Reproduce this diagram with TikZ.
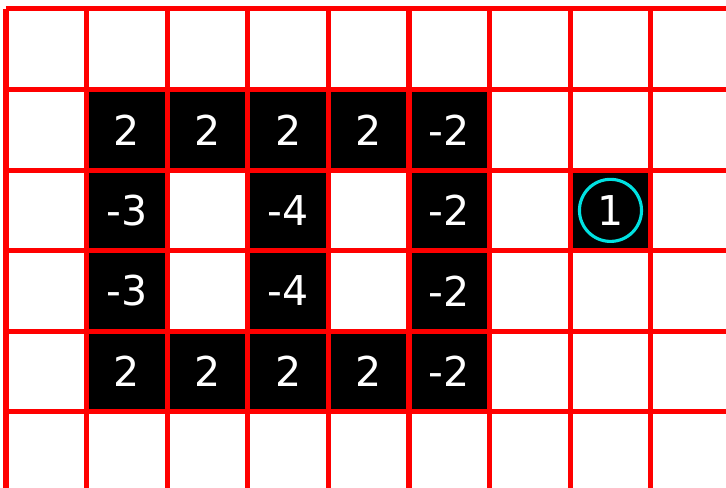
\documentclass[tikz,border=0pt]{standalone}
\usepackage{fontspec}
\setmainfont{DejaVu Sans}
\definecolor{gridred}{RGB}{255,0,0}
\definecolor{ringcyan}{RGB}{0,225,225}

\begin{document}
\begin{tikzpicture}[
  cellnum/.style={text=white, font=\fontsize{14.5}{17}\selectfont, inner sep=0pt},
  ring/.style={draw=ringcyan, circle, line width=1.1pt, minimum size=0.77cm}
]
\useasboundingbox (-0.074,0.11) rectangle (8.933,-5.944);

% Black cells and their values
\foreach \c/\r/\v in {1/1/2, 2/1/2, 3/1/2, 4/1/2, 5/1/-2,
                      1/2/-3, 3/2/-4, 5/2/-2, 7/2/1,
                      1/3/-3, 3/3/-4, 5/3/-2,
                      1/4/2, 2/4/2, 3/4/2, 4/4/2, 5/4/-2} {
  \fill[black] (\c,-\r) rectangle (\c+1,-\r-1);
  \node[cellnum] (cell-\c-\r) at (\c+0.5,-\r-0.5) {\v};
}

% Ring round the single one
\node[ring] (ring-7-2) at (cell-7-2) {};

% Red grid
\draw[gridred, line width=1.8pt] (0,0) grid (9.5,-6.5);
\end{tikzpicture}
\end{document}
